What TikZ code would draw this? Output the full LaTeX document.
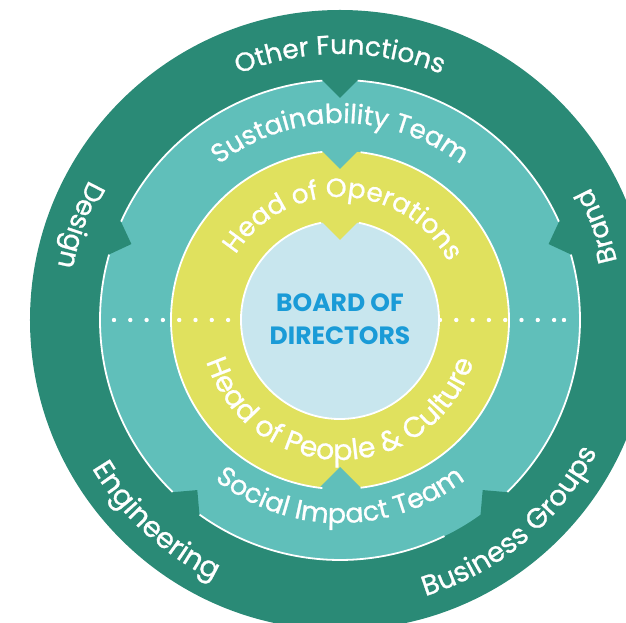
\documentclass[tikz,border=0pt]{standalone}
\usepackage{fontspec}
\setmainfont{Poppins}
\newfontfamily\ringfam{Poppins}[FakeBold=0.9]
\usetikzlibrary{decorations.text,calc}
\definecolor{darkteal}{HTML}{2A8A76}
\definecolor{lightteal}{HTML}{60BFBA}
\definecolor{ringyellow}{HTML}{E0E15E}
\definecolor{coreblue}{HTML}{C8E6EE}
\definecolor{textblue}{HTML}{1A9BD7}
\newcommand\ringfont[1]{\ringfam\fontsize{#1}{#1}\selectfont}
% notch: colour, angle, apex radius, edge length
\newcommand\ringnotch[4]{%
  \fill[#1] (#2:#3) -- ($(#2:#3)+(#2+45:#4)$) -- ($(#2:#3)+(#2-45:#4)$) -- cycle;}
\tikzset{
  ringtext/.style 2 args={decorate, decoration={text along path, text align=center,
      text color=white, text={|\ringfont{#1}|#2}}},
  whiteedge/.style={draw=white, line width=1.8pt},
  dotmark/.style={fill=white, circle, inner sep=0pt, minimum size=4.4pt},
  boardtext/.style={text=textblue, align=center, font=\bfseries\fontsize{25}{33}\selectfont}
}
\begin{document}
\begin{tikzpicture}[x=1pt,y=1pt]
\useasboundingbox (-340,-303) rectangle (286,320);
\clip (-340,-303) rectangle (286,320);
% outer ring
\fill[darkteal] (0,0) circle[radius=310];
% light teal ring
\fill[lightteal] (0,0) circle[radius=240];
\foreach \a in {20,90,160,230,310} {\ringnotch{darkteal}{\a}{222}{30}}
\foreach \a in {20,90,160,230,310}
  \draw[whiteedge] (\a+4.2:240) arc[start angle=\a+4.2, end angle=\a+65.8, radius=240];
% yellow ring
\fill[ringyellow] (0,0) circle[radius=169];
\ringnotch{lightteal}{90}{151}{30}
\ringnotch{lightteal}{270}{147}{32}
\draw[whiteedge] (96:169) arc[start angle=96, end angle=264, radius=169];
\draw[whiteedge] (277:169) arc[start angle=277, end angle=443, radius=169];
% core
\fill[coreblue] (0,0) circle[radius=99];
\ringnotch{ringyellow}{90}{80}{27}
\draw[whiteedge] (101:99) arc[start angle=101, end angle=439, radius=99];
% dotted divider
\foreach \i in {0,...,7} {
  \node[dotmark] (dl\i) at ({-226+16.3*\i},0) {};
  \node[dotmark] (dr\i) at ({100+16.3*\i},0) {};
}
\node[dotmark] (dr8) at (224,0) {};
% centre text
\node[boardtext] (board) at (0,1) {BOARD OF\\DIRECTORS};
% outer labels
\path[ringtext={26.5}{Other Functions}] (160:266) arc[start angle=160, end angle=20, radius=266];
\path[ringtext={27}{Design}] (110:287) arc[start angle=110, end angle=210, radius=287];
\path[ringtext={26.5}{Brand}] (-30:283) arc[start angle=-30, end angle=70, radius=283];
\path[ringtext={28.5}{Engineering}] (165:289) arc[start angle=165, end angle=290, radius=289];
\path[ringtext={28}{Business Groups}] (245:289) arc[start angle=245, end angle=375, radius=289];
% middle labels
\path[ringtext={26.5}{Sustainability Team}] (165:197) arc[start angle=165, end angle=15, radius=197];
\path[ringtext={27}{Social Impact Team}] (185:203) arc[start angle=185, end angle=355, radius=203];
% inner labels
\path[ringtext={26.5}{Head of Operations}] (180:123) arc[start angle=180, end angle=-4, radius=123];
\path[ringtext={28.5}{Head of People {\&} Culture}] (165:140) arc[start angle=165, end angle=375, radius=140];
\end{tikzpicture}
\end{document}
